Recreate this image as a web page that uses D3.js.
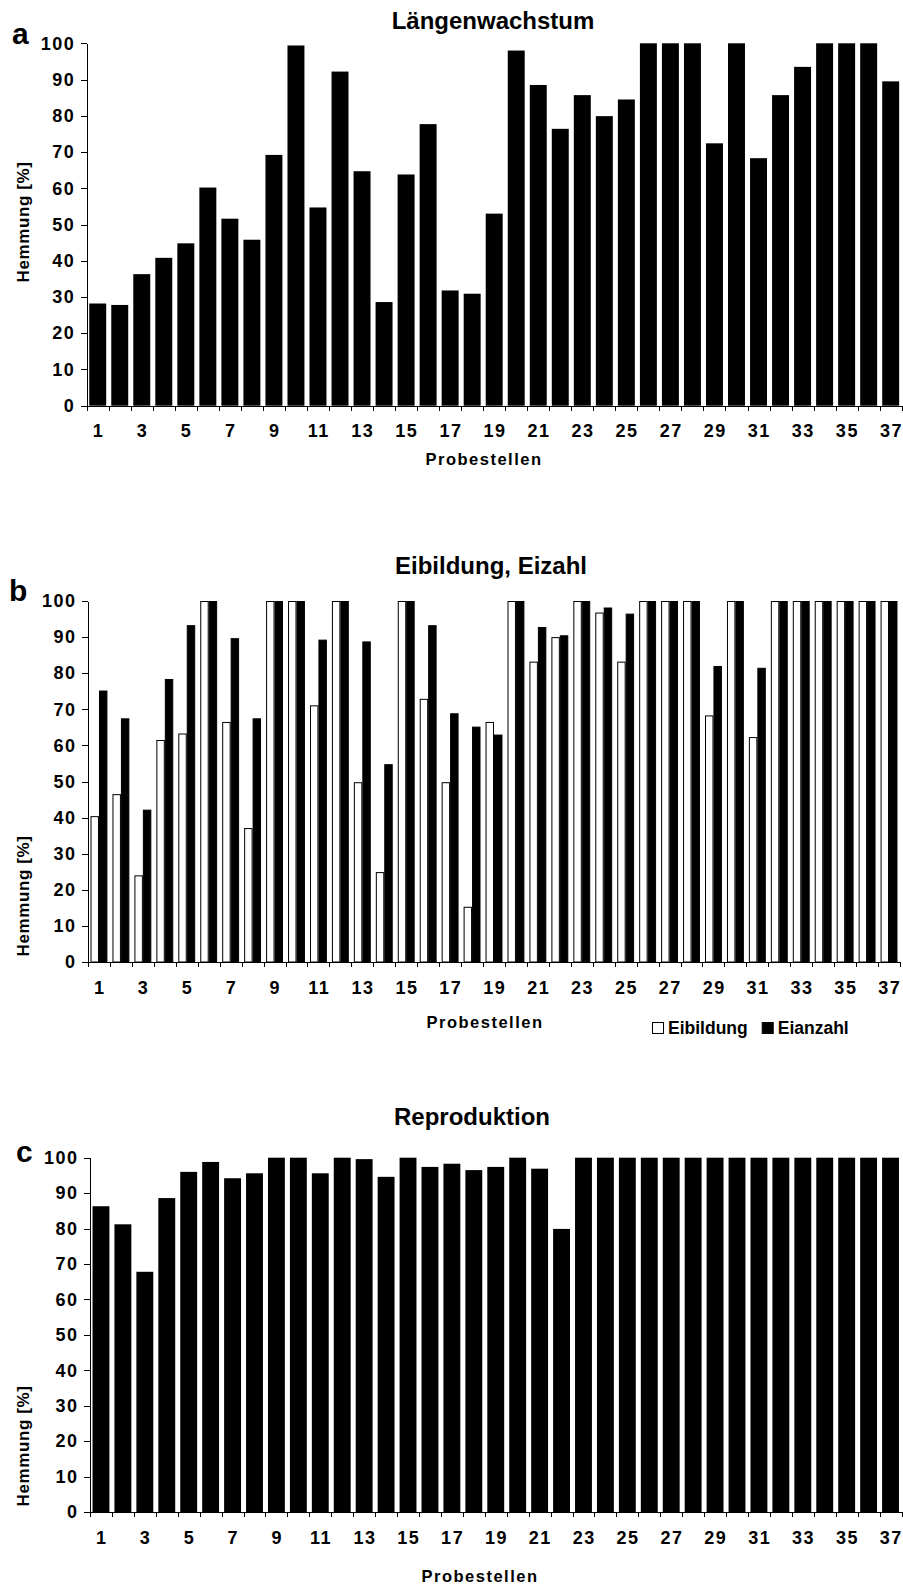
<!DOCTYPE html>
<html lang="de">
<head>
<meta charset="UTF-8">
<title>Hemmung Probestellen</title>
<style>
    body { margin: 0; background: #fff; }
    text { font-family: Arial, "Liberation Sans", sans-serif; font-weight: bold; fill: #000; }
    .axis path, .axis line { stroke: #000; stroke-width: 1px; shape-rendering: crispEdges; }
    .axis text { font-size: 18px; font-family: Arial, "Liberation Sans", sans-serif; font-weight: bold; letter-spacing: 1.5px; }
</style>
</head>
<body>
<svg id="chart" width="903" height="1584"></svg>
<script src="https://d3js.org/d3.v7.min.js"></script>
<script>
// Probestellen 1..37
const stations = ["1","2","3","4","5","6","7","8","9","10","11","12","13","14","15","16","17","18","19",
    "20","21","22","23","24","25","26","27","28","29","30","31","32","33","34","35","36","37"];
const yTicks = [0, 10, 20, 30, 40, 50, 60, 70, 80, 90, 100];

// a: Längenwachstum
const laengenwachstum = [28.2, 27.8, 36.3, 40.8, 44.8, 60.2, 51.6, 45.8, 69.2, 99.4, 54.7, 92.2, 64.7, 28.6,
    63.8, 77.7, 31.8, 30.9, 53.0, 98.0, 88.5, 76.4, 85.7, 79.9, 84.5, 100, 100, 100, 72.4, 100, 68.3, 85.7,
    93.5, 100, 100, 100, 89.5];

// b: Eibildung / Eianzahl
const eibildung = [40.4, 46.5, 24.0, 61.5, 63.3, 100, 66.5, 37.1, 100, 100, 71.1, 100, 49.8, 24.9, 100, 72.9,
    49.8, 15.3, 66.5, 100, 83.2, 90.0, 100, 96.8, 83.2, 100, 100, 100, 68.3, 100, 62.3, 100, 100, 100, 100,
    100, 100];
const eianzahl = [75.2, 67.5, 42.2, 78.4, 93.3, 100, 89.7, 67.5, 100, 100, 89.3, 100, 88.8, 54.8, 100, 93.3,
    68.9, 65.2, 63.0, 100, 92.8, 90.5, 100, 98.2, 96.5, 100, 100, 100, 82.0, 100, 81.5, 100, 100, 100, 100,
    100, 100];

// c: Reproduktion
const reproduktion = [86.3, 81.2, 67.8, 88.6, 96.0, 98.8, 94.2, 95.6, 100, 100, 95.6, 100, 99.6, 94.6, 100,
    97.4, 98.3, 96.5, 97.4, 100, 96.9, 79.9, 100, 100, 100, 100, 100, 100, 100, 100, 100, 100, 100, 100, 100,
    100, 100];

const svg = d3.select("#chart");

function drawPanel(p) {
    const g = svg.append("g");

    const x = d3.scaleBand().domain(stations).range([p.left, p.right])
        .paddingInner(0.23).paddingOuter(0.115);
    // category boundaries for the tick marks
    const xb = d3.scaleLinear().domain([0, stations.length]).range([p.left, p.right]);
    const y = d3.scaleLinear().domain([0, 100]).range([p.bottom, p.top]);

    if (p.series.length === 1) {
        g.append("g").selectAll("rect")
            .data(p.series[0].values)
            .join("rect")
            .attr("x", (d, i) => x(stations[i]))
            .attr("width", x.bandwidth())
            .attr("y", d => y(d))
            .attr("height", d => y(0) - y(d))
            .attr("fill", "#000");
    } else {
        const sub = d3.scaleBand().domain(p.series.map(s => s.name)).range([0, x.bandwidth()]);
        p.series.forEach(s => {
            g.append("g").selectAll("rect")
                .data(s.values)
                .join("rect")
                .attr("x", (d, i) => x(stations[i]) + sub(s.name) + 0.5)
                .attr("width", sub.bandwidth() - 1)
                .attr("y", d => y(d) + 0.5)
                .attr("height", d => y(0) - y(d) - 0.5)
                .attr("fill", s.fill)
                .attr("stroke", "#000")
                .attr("stroke-width", 1);
        });
    }

    // y axis
    g.append("g").attr("class", "axis")
        .attr("transform", `translate(${p.left},0)`)
        .call(d3.axisLeft(y).tickValues(yTicks).tickSize(6).tickSizeOuter(0).tickPadding(7))
        .call(a => a.selectAll(".tick text").attr("dx", 1.5));

    // x axis tick marks at the category boundaries
    g.append("g").attr("class", "axis")
        .attr("transform", `translate(0,${p.bottom})`)
        .call(d3.axisBottom(xb).tickValues(d3.range(0, stations.length + 1))
            .tickSize(5).tickSizeOuter(0).tickFormat(""));

    // x labels for every second station
    g.append("g").attr("class", "axis")
        .attr("transform", `translate(0,${p.bottom})`)
        .call(d3.axisBottom(x).tickValues(stations.filter((d, i) => i % 2 === 0)).tickSize(0).tickPadding(19))
        .call(a => a.select(".domain").remove())
        .call(a => a.selectAll(".tick text").attr("dx", 0.75));

    g.append("text")
        .attr("x", p.titleX).attr("y", p.titleY)
        .attr("text-anchor", "middle")
        .style("font-size", "24px")
        .text(p.title);

    g.append("text")
        .attr("x", p.letterX).attr("y", p.letterY)
        .style("font-size", "30px")
        .text(p.letter);

    g.append("text")
        .attr("transform", `translate(${p.yLabelX},${p.yLabelY}) rotate(-90)`)
        .attr("text-anchor", "middle")
        .style("font-size", "17px")
        .style("letter-spacing", "0.6px")
        .text("Hemmung [%]");

    g.append("text")
        .attr("x", p.xLabelX).attr("y", p.xLabelY)
        .attr("text-anchor", "middle")
        .style("font-size", "16.5px")
        .style("letter-spacing", "1.5px")
        .text("Probestellen");

    if (p.legend) {
        const lg = g.append("g").attr("transform", `translate(${p.legend.x},${p.legend.y})`);
        let off = 0;
        p.series.forEach(s => {
            lg.append("rect")
                .attr("x", off + 0.5).attr("y", 0.5)
                .attr("width", 11).attr("height", 11)
                .attr("fill", s.fill).attr("stroke", "#000");
            const t = lg.append("text")
                .attr("x", off + 16).attr("y", 11.5)
                .style("font-size", "17.5px")
                .text(s.name);
            off += 16 + t.node().getComputedTextLength() + 14;
        });
    }
}

drawPanel({
    left: 86.7, right: 901.7, top: 43.3, bottom: 405.7,
    title: "Längenwachstum", titleX: 493, titleY: 29,
    letter: "a", letterX: 12, letterY: 44,
    yLabelX: 29, yLabelY: 222,
    xLabelX: 484, xLabelY: 465,
    series: [{ name: "Längenwachstum", values: laengenwachstum, fill: "#000" }]
});

drawPanel({
    left: 88, right: 900, top: 601, bottom: 962,
    title: "Eibildung, Eizahl", titleX: 491, titleY: 574,
    letter: "b", letterX: 9, letterY: 601,
    yLabelX: 29, yLabelY: 896,
    xLabelX: 485, xLabelY: 1028,
    series: [
        { name: "Eibildung", values: eibildung, fill: "#fff" },
        { name: "Eianzahl", values: eianzahl, fill: "#000" }
    ],
    legend: { x: 652, y: 1022 }
});

drawPanel({
    left: 90, right: 901.5, top: 1157.7, bottom: 1512,
    title: "Reproduktion", titleX: 472, titleY: 1125,
    letter: "c", letterX: 16, letterY: 1162,
    yLabelX: 29, yLabelY: 1446,
    xLabelX: 480, xLabelY: 1582,
    series: [{ name: "Reproduktion", values: reproduktion, fill: "#000" }]
});
</script>
</body>
</html>
